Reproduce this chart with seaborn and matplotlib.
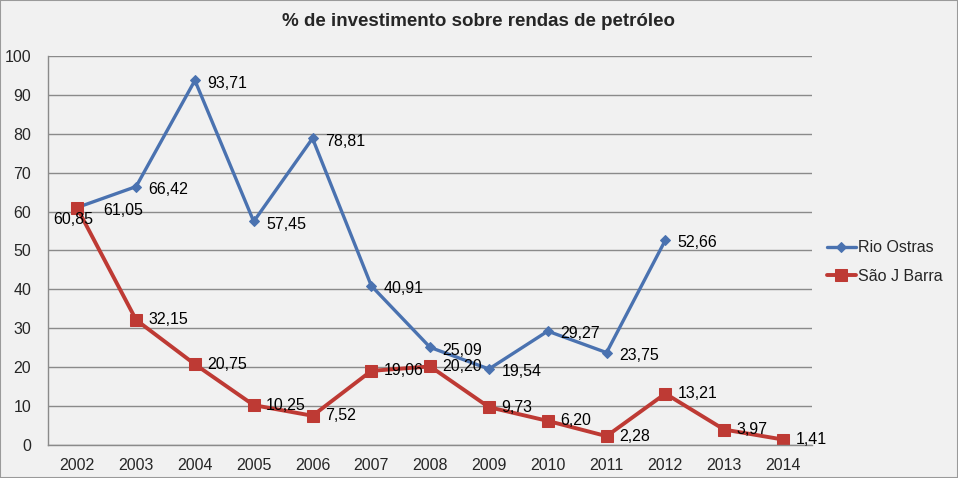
import numpy as np
import pandas as pd
import matplotlib
matplotlib.use("Agg")
import matplotlib.pyplot as plt
import seaborn as sns

# dados
anos = [2002, 2003, 2004, 2005, 2006, 2007, 2008, 2009, 2010, 2011, 2012, 2013, 2014]
rio_ostras = [61.05, 66.42, 93.71, 57.45, 78.81, 40.91, 25.09, 19.54, 29.27, 23.75, 52.66, np.nan, np.nan]
sao_j_barra = [60.85, 32.15, 20.75, 10.25, 7.52, 19.06, 20.20, 9.73, 6.20, 2.28, 13.21, 3.97, 1.41]

titulo = "% de investimento sobre rendas de petróleo"
cor_rio = "#4a72b0"
cor_sao = "#be3a34"
fundo = "#f1f1f1"

sns.set_style("white")
plt.rcParams["font.family"] = ["Liberation Sans", "DejaVu Sans"]

fig = plt.figure(figsize=(9.58, 4.78), dpi=100, facecolor=fundo)
ax = fig.add_axes([0.050, 0.069, 0.798, 0.814])
ax.set_facecolor(fundo)

df = pd.DataFrame({"Ano": anos, "Rio Ostras": rio_ostras, "São J Barra": sao_j_barra})
df["pos"] = range(len(anos))

sns.lineplot(data=df, x="pos", y="Rio Ostras", ax=ax, color=cor_rio, lw=2.4,
             marker="D", markersize=5.5, markeredgecolor=cor_rio, label="Rio Ostras")
sns.lineplot(data=df, x="pos", y="São J Barra", ax=ax, color=cor_sao, lw=2.8,
             marker="s", markersize=8, markeredgecolor=cor_sao, label="São J Barra")

# rótulos dos pontos
def fmt(v):
    return f"{v:.2f}".replace(".", ",")

for i, v in enumerate(rio_ostras):
    if np.isnan(v):
        continue
    dx = 19 if i == 0 else 9
    ax.annotate(fmt(v), (i, v), xytext=(dx, -2), textcoords="offset points",
                ha="left", va="center", fontsize=11.5, color="black")

for i, v in enumerate(sao_j_barra):
    if i == 0:
        ax.annotate(fmt(v), (i, v), xytext=(-3, -8), textcoords="offset points",
                    ha="center", va="center", fontsize=11.5, color="black")
        continue
    ax.annotate(fmt(v), (i, v), xytext=(9, 0), textcoords="offset points",
                ha="left", va="center", fontsize=11.5, color="black")

ax.set_xlim(-0.5, len(anos) - 0.5)
ax.set_ylim(0, 100)
ax.set_xticks(range(len(anos)))
ax.set_xticklabels([str(a) for a in anos])
ax.set_yticks(range(0, 101, 10))
ax.tick_params(axis="both", labelsize=11.5, length=0, pad=9)
ax.tick_params(axis="y", pad=12)
ax.set_xlabel("")
ax.set_ylabel("")

ax.yaxis.grid(True, color="#8a8a8a", lw=1)
ax.xaxis.grid(False)
ax.set_axisbelow(True)
for lado in ["top", "right"]:
    ax.spines[lado].set_visible(False)
for lado in ["left", "bottom"]:
    ax.spines[lado].set_color("#8a8a8a")
    ax.spines[lado].set_linewidth(1)

fig.text(0.5, 1 - 22 / 478, titulo, ha="center", va="center",
         fontsize=13.5, fontweight="bold")

leg = ax.legend(loc="center left", bbox_to_anchor=(1.0, 0.47), frameon=False,
                fontsize=11.5, handlelength=1.8, handletextpad=0.15, labelspacing=0.85)

fig.patches.append(plt.Rectangle((0, 0), 1, 1, transform=fig.transFigure,
                                 fill=False, edgecolor="#9a9a9a", lw=1.5))

fig.savefig("out.png", dpi=100, facecolor=fundo)
